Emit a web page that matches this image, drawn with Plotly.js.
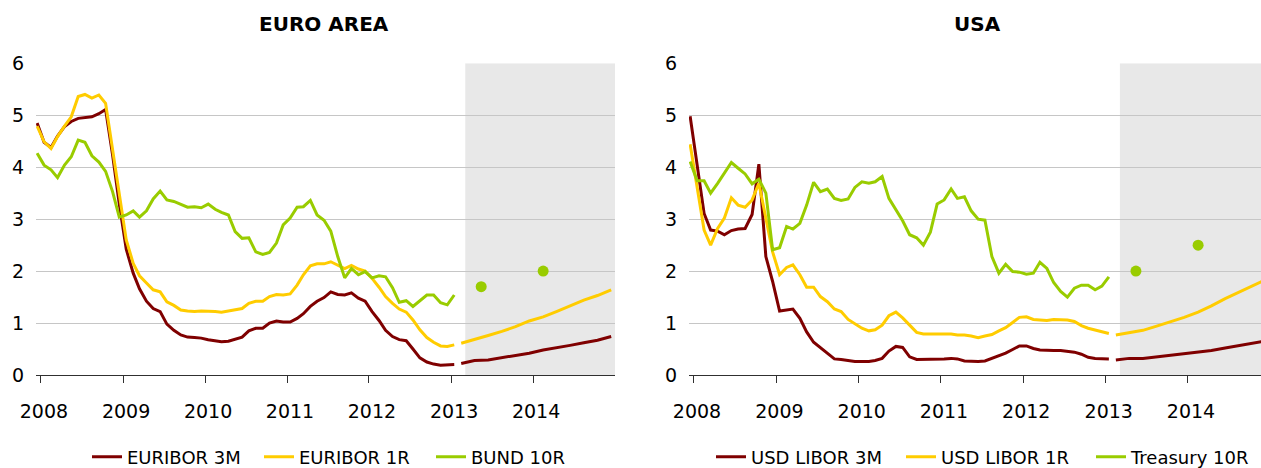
<!DOCTYPE html>
<html><head><meta charset="utf-8">
<script src="https://cdn.plot.ly/plotly-3.0.1.min.js"></script>
<style>html,body{margin:0;padding:0;overflow:hidden;background:#fff}</style>
</head><body><div id="chart" style="width:1261px;height:468px"></div>
<script>
// Monthly observations Dec 2007 .. Jan 2013 (62 months)
function monthList(y, m, n) { const out = []; for (let k = 0; k < n; k++) { const mm = m + k; const yy = y + Math.floor((mm - 1) / 12); const mo = ((mm - 1) % 12) + 1; out.push(yy + '-' + String(mo).padStart(2, '0') + '-15'); } return out; }
const histMonths = monthList(2007, 12, 62);

const euribor3m = [4.85,4.48,4.38,4.60,4.78,4.88,4.94,4.96,4.97,5.03,5.11,4.24,3.29,2.42,1.96,1.66,1.42,1.28,1.22,0.98,0.86,0.77,0.73,0.72,0.71,0.68,0.66,0.64,0.65,0.69,0.73,0.85,0.90,0.90,1.00,1.04,1.02,1.02,1.09,1.18,1.32,1.42,1.49,1.60,1.55,1.54,1.58,1.48,1.42,1.22,1.05,0.86,0.74,0.68,0.66,0.50,0.33,0.25,0.21,0.19,0.19,0.20];
const euribor1r = [4.79,4.49,4.36,4.59,4.79,4.97,5.36,5.40,5.33,5.39,5.23,4.35,3.45,2.60,2.15,1.91,1.77,1.64,1.60,1.41,1.34,1.25,1.23,1.22,1.23,1.23,1.22,1.21,1.23,1.25,1.28,1.38,1.42,1.42,1.51,1.55,1.54,1.56,1.73,1.93,2.10,2.14,2.14,2.18,2.11,2.05,2.11,2.04,2.00,1.86,1.69,1.51,1.38,1.27,1.21,1.06,0.87,0.72,0.63,0.56,0.55,0.58];
const bund10r = [4.27,4.04,3.95,3.80,4.04,4.20,4.52,4.48,4.22,4.10,3.92,3.53,3.04,3.08,3.16,3.04,3.16,3.39,3.54,3.37,3.34,3.29,3.23,3.24,3.22,3.29,3.19,3.13,3.08,2.76,2.63,2.64,2.37,2.32,2.36,2.54,2.89,3.02,3.23,3.24,3.36,3.08,2.98,2.77,2.28,1.87,2.05,1.93,1.99,1.87,1.91,1.89,1.68,1.40,1.43,1.32,1.43,1.54,1.54,1.39,1.35,1.54];

const usdLibor3m = [4.98,4.04,3.11,2.79,2.77,2.70,2.78,2.81,2.82,3.09,4.06,2.28,1.80,1.23,1.25,1.27,1.09,0.83,0.63,0.53,0.42,0.31,0.30,0.28,0.26,0.26,0.26,0.28,0.32,0.46,0.55,0.53,0.35,0.30,0.30,0.30,0.31,0.31,0.32,0.31,0.27,0.26,0.26,0.27,0.32,0.37,0.42,0.49,0.56,0.56,0.51,0.48,0.47,0.47,0.47,0.46,0.44,0.40,0.34,0.32,0.32,0.31];
const usdLibor1r = [4.44,3.63,2.79,2.50,2.82,3.02,3.41,3.27,3.23,3.37,3.69,3.02,2.37,1.93,2.07,2.12,1.93,1.69,1.69,1.51,1.41,1.27,1.22,1.07,0.98,0.90,0.85,0.87,0.96,1.14,1.21,1.10,0.96,0.82,0.79,0.79,0.79,0.80,0.79,0.77,0.77,0.75,0.72,0.75,0.78,0.85,0.91,1.01,1.11,1.12,1.07,1.06,1.05,1.07,1.07,1.06,1.03,0.95,0.90,0.87,0.83,0.80];
const treasury10r = [4.11,3.74,3.74,3.50,3.69,3.90,4.09,3.98,3.87,3.68,3.77,3.50,2.41,2.45,2.86,2.81,2.92,3.27,3.71,3.53,3.58,3.40,3.36,3.39,3.61,3.72,3.69,3.72,3.82,3.40,3.18,2.97,2.70,2.64,2.50,2.75,3.29,3.37,3.58,3.40,3.43,3.16,3.00,2.98,2.28,1.96,2.13,1.99,1.98,1.94,1.96,2.17,2.05,1.78,1.61,1.50,1.67,1.73,1.73,1.64,1.71,1.89];

// Forward curves (every second month, Feb 2013 .. Dec 2014)
const fwdMonths = ['2013-02-15','2013-04-15','2013-06-15','2013-08-15','2013-10-15','2013-12-15','2014-02-15','2014-04-15','2014-06-15','2014-08-15','2014-10-15','2014-12-15'];
const euribor3mFwd = [0.22,0.28,0.29,0.33,0.37,0.42,0.48,0.52,0.57,0.62,0.67,0.74];
const euribor1rFwd = [0.61,0.68,0.76,0.84,0.93,1.04,1.12,1.22,1.33,1.44,1.53,1.64];
const usdLibor3mFwd = [0.29,0.32,0.32,0.35,0.37,0.40,0.43,0.47,0.52,0.57,0.61,0.66];
const usdLibor1rFwd = [0.77,0.82,0.86,0.94,1.02,1.11,1.21,1.33,1.47,1.59,1.71,1.84];

// Forecast points for 10Y yields
const forecastDates = ['2013-05-15','2014-02-15'];
const bund10rForecast = [1.70, 2.00];
const treasury10rForecast = [2.00, 2.50];

const yearTicks = ['2008-01-01','2009-01-01','2010-01-01','2011-01-01','2012-01-01','2013-01-01','2014-01-01'];
const yearLabels = ['2008','2009','2010','2011','2012','2013','2014'];

const RED = '#7f0000', YEL = '#ffcc00', GRN = '#99cc00';
const FONT = '"DejaVu Sans", Verdana, sans-serif';
const LW = 3;

function line(x, y, color, name, xa, ya, lg, show) {
  return {type:'scatter', mode:'lines', x:x, y:y, name:name, xaxis:xa, yaxis:ya,
    line:{color:color, width:LW}, legend:lg, legendgroup:lg+name, showlegend:show, hoverinfo:'skip'};
}
function dots(x, y, color, name, xa, ya, lg) {
  return {type:'scatter', mode:'markers', x:x, y:y, name:name, xaxis:xa, yaxis:ya,
    marker:{color:color, size:11}, legend:lg, legendgroup:lg+name, showlegend:false, hoverinfo:'skip'};
}

const traces = [
  line(histMonths, euribor3m, RED, 'EURIBOR 3M', 'x', 'y', 'legend', true),
  line(fwdMonths, euribor3mFwd, RED, 'EURIBOR 3M', 'x', 'y', 'legend', false),
  line(histMonths, euribor1r, YEL, 'EURIBOR 1R', 'x', 'y', 'legend', true),
  line(fwdMonths, euribor1rFwd, YEL, 'EURIBOR 1R', 'x', 'y', 'legend', false),
  line(histMonths, bund10r, GRN, 'BUND 10R', 'x', 'y', 'legend', true),
  dots(forecastDates, bund10rForecast, GRN, 'BUND 10R', 'x', 'y', 'legend'),
  line(histMonths, usdLibor3m, RED, 'USD LIBOR 3M', 'x2', 'y2', 'legend2', true),
  line(fwdMonths, usdLibor3mFwd, RED, 'USD LIBOR 3M', 'x2', 'y2', 'legend2', false),
  line(histMonths, usdLibor1r, YEL, 'USD LIBOR 1R', 'x2', 'y2', 'legend2', true),
  line(fwdMonths, usdLibor1rFwd, YEL, 'USD LIBOR 1R', 'x2', 'y2', 'legend2', false),
  line(histMonths, treasury10r, GRN, 'Treasury 10R', 'x2', 'y2', 'legend2', true),
  dots(forecastDates, treasury10rForecast, GRN, 'Treasury 10R', 'x2', 'y2', 'legend2')
];

const W = 1261, H = 468;
const yDom = [(H-375)/H, (H-63.3)/H];
function xAxis(dom, range) {
  return {type:'date', domain:dom, range:range, tickmode:'array', tickvals:yearTicks, ticktext:yearLabels,
    showgrid:false, zeroline:false, showline:true, linecolor:'#303030', linewidth:1,
    ticks:'outside', ticklen:7, tickcolor:'#303030', ticklabelstandoff:12, ticklabelshift:3,
    tickfont:{family:FONT, size:19, color:'#000'}, fixedrange:true, automargin:false};
}
function yAxis(anchor) {
  return {domain:yDom, range:[0,6], tickvals:[0,1,2,3,4,5,6], anchor:anchor,
    showgrid:true, gridcolor:'#c6c6c6', gridwidth:1, zeroline:false, showline:false, ticks:'',
    ticklabelstandoff:11, tickfont:{family:FONT, size:19, color:'#000'}, fixedrange:true, automargin:false};
}
const legendBase = {orientation:'h', xanchor:'left', yanchor:'middle', y:(H-457)/H,
  font:{family:FONT, size:18, color:'#000'}, bgcolor:'rgba(0,0,0,0)', itemwidth:30, tracegroupgap:0,
  entrywidthmode:'pixels'};

const layout = {
  width:W, height:H, margin:{l:0, r:0, t:0, b:0, autoexpand:false}, paper_bgcolor:'#fff', plot_bgcolor:'#fff',
  showlegend:true,
  xaxis: xAxis([36/W, 615/W], ['2007-12-10','2015-01-01']),
  yaxis: yAxis('x'),
  xaxis2: xAxis([689/W, 1], ['2007-12-10','2014-11-21']),
  yaxis2: yAxis('x2'),
  legend: Object.assign({}, legendBase, {x:87/W, entrywidth:127}),
  legend2: Object.assign({}, legendBase, {x:711/W, entrywidth:145}),
  shapes: [
    {type:'rect', xref:'x', yref:'y', x0:'2013-03-05', x1:'2015-01-01', y0:0, y1:6, fillcolor:'#e8e8e8', line:{width:0}, layer:'below'},
    {type:'rect', xref:'x2', yref:'y2', x0:'2013-03-05', x1:'2014-11-21', y0:0, y1:6, fillcolor:'#e8e8e8', line:{width:0}, layer:'below'}
  ],
  annotations: [
    {text:'<b>EURO AREA</b>', xref:'paper', yref:'paper', x:324/W, y:(H-24)/H, showarrow:false, xanchor:'center', yanchor:'middle', font:{family:FONT, size:20, color:'#000'}},
    {text:'<b>USA</b>', xref:'paper', yref:'paper', x:977/W, y:(H-24)/H, showarrow:false, xanchor:'center', yanchor:'middle', font:{family:FONT, size:20, color:'#000'}}
  ]
};
Plotly.newPlot('chart', traces, layout, {displayModeBar:false, staticPlot:true});
</script></body></html>
